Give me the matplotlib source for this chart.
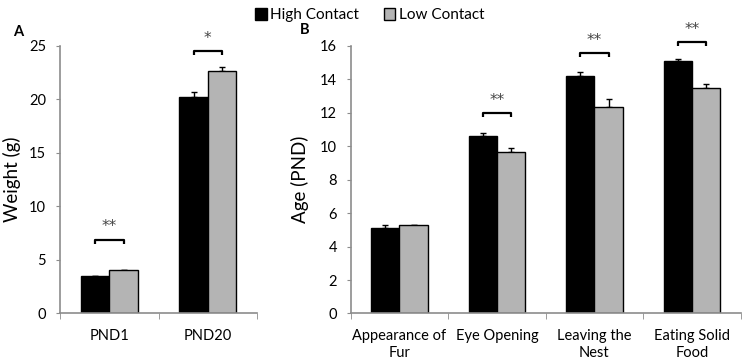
import numpy as np
import matplotlib.pyplot as plt
from matplotlib.patches import Patch

# Panel A: body weight
weight_groups = ["PND1", "PND20"]
weight_high = [3.48, 20.25]
weight_low = [4.05, 22.65]
weight_high_err = [0.0, 0.4]
weight_low_err = [0.0, 0.4]
weight_stars = ["**", "*"]
weight_bracket_y = [6.9, 24.5]

# Panel B: developmental milestones
age_groups = ["Appearance of\nFur", "Eye Opening", "Leaving the\nNest", "Eating Solid\nFood"]
age_high = [5.12, 10.62, 14.22, 15.08]
age_low = [5.3, 9.66, 12.35, 13.5]
age_high_err = [0.15, 0.15, 0.25, 0.15]
age_low_err = [0.0, 0.25, 0.45, 0.25]
age_stars = ["", "**", "**", "**"]
age_bracket_y = [None, 12.0, 15.6, 16.25]

BLACK = "#000000"
GRAY = "#b4b4b4"
AXIS = "#8c8c8c"
plt.rcParams["font.family"] = ["Lato", "DejaVu Sans"]

fig = plt.figure(figsize=(7.44, 3.62), dpi=100)
axA = fig.add_axes([0.0806, 0.134, 0.265, 0.74])
axB = fig.add_axes([0.4714, 0.134, 0.524, 0.739])

w = 0.29


def draw_panel(ax, groups, high, low, high_err, low_err, stars, bracket_y, ymax, step, tick_h):
    x = np.arange(len(groups))
    ax.bar(x - w / 2, high, w, color=BLACK, edgecolor=BLACK, linewidth=1, zorder=2)
    ax.bar(x + w / 2, low, w, color=GRAY, edgecolor=BLACK, linewidth=1, zorder=2)
    ax.errorbar(x - w / 2, high, yerr=[np.zeros(len(x)), high_err], fmt="none",
                ecolor=BLACK, elinewidth=1, capsize=2, capthick=1, zorder=1)
    ax.errorbar(x + w / 2, low, yerr=[np.zeros(len(x)), low_err], fmt="none",
                ecolor=BLACK, elinewidth=1, capsize=2, capthick=1, zorder=1)
    for xi, s, by in zip(x, stars, bracket_y):
        if not s:
            continue
        x0, x1 = xi - w / 2, xi + w / 2
        ax.plot([x0, x0, x1, x1], [by - tick_h, by, by, by - tick_h], color=BLACK, lw=1.6,
                solid_capstyle="butt", clip_on=False)
        ax.text(xi, by + tick_h * 1.2, s, ha="center", va="bottom", fontsize=11,
                color="#444444", family="DejaVu Sans")

    ax.set_xlim(-0.5, len(groups) - 0.5)
    ax.set_ylim(0, ymax)
    ax.set_yticks(np.arange(0, ymax + 0.1, step))
    ax.set_xticks(x)
    ax.set_xticklabels(groups, fontsize=10.5, linespacing=1.25)
    ax.set_xticks(np.arange(-0.5, len(groups)), minor=True)
    ax.tick_params(axis="x", which="major", length=0, pad=11)
    ax.tick_params(axis="x", which="minor", length=4, color=AXIS, direction="out")
    ax.tick_params(axis="y", length=3, color=AXIS, labelsize=10.5, pad=7)
    for side in ["top", "right"]:
        ax.spines[side].set_visible(False)
    for side in ["left", "bottom"]:
        ax.spines[side].set_color(AXIS)
        ax.spines[side].set_linewidth(1.2)


draw_panel(axA, weight_groups, weight_high, weight_low, weight_high_err, weight_low_err,
           weight_stars, weight_bracket_y, 25, 5, 0.4)
draw_panel(axB, age_groups, age_high, age_low, age_high_err, age_low_err,
           age_stars, age_bracket_y, 16, 2, 0.25)

axA.set_ylabel("Weight (g)", fontsize=13.5, labelpad=6)
axB.set_ylabel("Age (PND)", fontsize=13.5, labelpad=8)

fig.text(13 / 744, 1 - 32 / 362, "A", fontsize=10.5, fontweight="bold", ha="left", va="center")
fig.text(300 / 744, 1 - 30 / 362, "B", fontsize=10.5, fontweight="bold", ha="left", va="center")

handles = [Patch(facecolor=BLACK, edgecolor=BLACK, label="High Contact"),
           Patch(facecolor=GRAY, edgecolor=BLACK, label="Low Contact")]
fig.legend(handles=handles, loc="upper center", bbox_to_anchor=(0.497, 1.015), ncol=2,
           frameon=False, fontsize=11, handlelength=0.75, handleheight=0.75,
           handletextpad=0.25, columnspacing=1.6)

fig.savefig("out.png", dpi=100)
